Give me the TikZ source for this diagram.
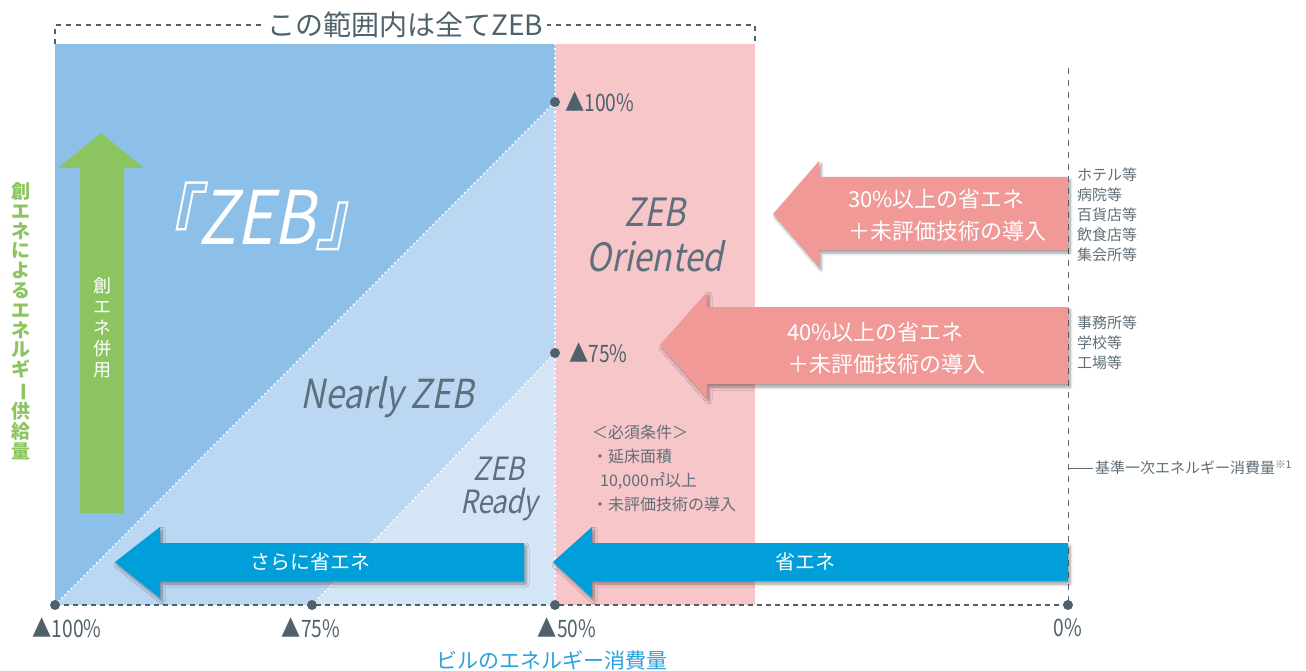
\documentclass[tikz,border=0pt]{standalone}
\usepackage{fontspec}
\setmainfont{Noto Sans CJK JP}
\newfontfamily\zebfont[FakeSlant=0.2,FakeStretch=0.85]{Noto Sans CJK JP}
\newfontfamily\numfont[FakeStretch=0.8]{Noto Sans CJK JP}
\usetikzlibrary{shadows.blur}

\definecolor{zebblue}{HTML}{8DC0E9}
\definecolor{nearlyblue}{HTML}{BCD7F1}
\definecolor{readyblue}{HTML}{D4E5F6}
\definecolor{orientpink}{HTML}{F7C6C9}
\definecolor{arrowpink}{HTML}{F09996}
\definecolor{arrowblue}{HTML}{009FDA}
\definecolor{arrowgreen}{HTML}{8CC560}
\definecolor{slate}{HTML}{4F626C}
\definecolor{listgray}{HTML}{5F6E76}
\definecolor{axisblue}{HTML}{2CA0DB}
\definecolor{zebgray}{HTML}{5D6F7D}

\tikzset{
  dot/.style={circle,fill=slate,inner sep=0pt,minimum size=10pt},
  pct/.style={text=slate,font=\numfont\fontsize{24}{24}\selectfont,inner sep=0pt},
  zeblabel/.style={text=zebgray,align=center,inner sep=0pt},
  arrowtext/.style={text=white,align=left,anchor=west,inner sep=0pt,
    font=\fontsize{22}{32}\selectfont},
  bartext/.style={text=white,inner sep=0pt,font=\fontsize{20}{20}\selectfont},
  listtext/.style={text=listgray,align=left,anchor=north west,inner sep=0pt,
    font=\fontsize{15}{20}\selectfont},
  arrowshadow/.style={blur shadow={shadow xshift=2pt,shadow yshift=-3pt,
    shadow blur steps=6,shadow blur radius=3pt,shadow opacity=40}},
  whitedots/.style={white,line width=1.5pt,dash pattern=on 1.5pt off 3pt}
}

\begin{document}
\begin{tikzpicture}[x=1pt,y=-1pt]
  \useasboundingbox (0,0) rectangle (1306,671);

  \coordinate (tl) at (55,44);
  \coordinate (tm) at (555,44);
  \coordinate (tr) at (755,44);
  \coordinate (b100) at (55,605);
  \coordinate (b75) at (312,605);
  \coordinate (b50) at (555,605);
  \coordinate (bpink) at (755,605);
  \coordinate (b0) at (1068,605);
  \coordinate (p100) at (555,102);
  \coordinate (p75) at (555,353);

  % areas
  \fill [zebblue] (tl) rectangle (b50);
  \fill [orientpink] (tm) rectangle (bpink);
  \fill [nearlyblue] (b100) -- (p100) -- (b50) -- cycle;
  \fill [readyblue] (b75) -- (p75) -- (b50) -- cycle;

  \draw [whitedots] (b100) -- (p100);
  \draw [whitedots] (b75) -- (p75);
  \draw [whitedots] (tm) -- (b50);

  % top bracket
  \draw [slate,line width=1.6pt,dash pattern=on 5pt off 5pt]
    (tl) -- (55,25) -- (755,25) -- (tr);
  \node (scope) [fill=white,text=slate,inner sep=4pt,
    font=\fontsize{28}{28}\selectfont] at (405,25) {この範囲内は全てZEB};

  % axes
  \draw [slate,line width=1.8pt,dash pattern=on 5pt off 4pt] (b100) -- (b0);
  \draw [listgray,line width=0.8pt,dash pattern=on 6pt off 6pt] (1068,68) -- (b0);

  % green arrow
  \fill [arrowgreen] (80,513) -- (80,168) -- (58,168) -- (101,133)
    -- (144,168) -- (124,168) -- (124,513) -- cycle;
  \node (sogen) [text=white,align=center,inner sep=0pt,
    font=\fontsize{18}{21}\selectfont] at (102,328)
    {創\\エ\\ネ\\併\\用};

  \node (supply) [text=arrowgreen,align=center,inner sep=0pt,
    font=\bfseries\fontsize{19}{19.8}\selectfont] at (21,321)
    {創\\エ\\ネ\\に\\よ\\る\\エ\\ネ\\ル\\ギ\\\rotatebox[origin=c]{-90}{ー}\\供\\給\\量};

  % zone names
  \node (zeb) [text=white,inner sep=0pt,font=\zebfont\fontsize{74}{74}\selectfont]
    at (257,216) {『ZEB』};
  \node (nearly) [zeblabel,font=\zebfont\fontsize{40}{40}\selectfont]
    at (387,397) {Nearly ZEB};
  \node (ready) [zeblabel,font=\zebfont\fontsize{32}{33}\selectfont]
    at (499,489) {ZEB\\Ready};
  \node (oriented) [zeblabel,font=\zebfont\fontsize{39}{45}\selectfont]
    at (655,235) {ZEB\\Oriented};

  % points
  \node [dot] at (p100) {};
  \node [dot] at (p75) {};
  \node [dot] at (b100) {};
  \node [dot] at (b75) {};
  \node [dot] at (b50) {};
  \node [dot] at (b0) {};

  \node (l100) [pct,anchor=west] at (565,102) {▲100\%};
  \node (l75) [pct,anchor=west] at (569,353) {▲75\%};
  \node (x100) [pct] at (67,628) {▲100\%};
  \node (x75) [pct] at (311,628) {▲75\%};
  \node (x50) [pct] at (567,628) {▲50\%};
  \node (x0) [pct] at (1068,628) {0\%};
  \node (xaxis) [text=axisblue,inner sep=0pt,font=\fontsize{21}{21}\selectfont]
    at (552,660) {ビルのエネルギー消費量};

  % pink arrows
  \fill [arrowpink,arrowshadow] (1068,177) -- (819,177) -- (819,161) -- (773,214)
    -- (819,267) -- (819,250) -- (1068,250) -- cycle;
  \node (save30) [arrowtext] at (848,215) {30\%以上の省エネ\\＋未評価技術の導入};

  \fill [arrowpink,arrowshadow] (1068,307) -- (707,307) -- (707,292) -- (660,345)
    -- (707,398) -- (707,384) -- (1068,384) -- cycle;
  \node (save40) [arrowtext] at (787,348) {40\%以上の省エネ\\＋未評価技術の導入};

  % blue arrows
  \fill [arrowblue,arrowshadow] (524,543) -- (160,543) -- (160,527) -- (115,562)
    -- (160,598) -- (160,581) -- (524,581) -- cycle;
  \node (more) [bartext] at (310,562) {さらに省エネ};

  \fill [arrowblue,arrowshadow] (1068,543) -- (592,543) -- (592,527) -- (553,562)
    -- (592,598) -- (592,581) -- (1068,581) -- cycle;
  \node (save) [bartext] at (805,562) {省エネ};

  % requirements
  \node (req) [text=listgray,align=left,anchor=north west,inner sep=0pt,
    font=\fontsize{16}{24}\selectfont] at (592,425)
    {＜必須条件＞\\・延床面積\\\hspace*{8pt}10,000㎡以上\\・未評価技術の導入};

  % building types
  \node (hotel) [listtext] at (1077,168)
    {ホテル等\\病院等\\百貨店等\\飲食店等\\集会所等};
  \node (office) [listtext] at (1077,316) {事務所等\\学校等\\工場等};

  \coordinate (base) at (1068,468);
  \draw [listgray,line width=0.8pt] (base) -- (1093,468);
  \node (standard) [text=listgray,anchor=west,inner sep=0pt,
    font=\fontsize{15}{15}\selectfont] at (1095,468)
    {基準一次エネルギー消費量\textsuperscript{※1}};
\end{tikzpicture}
\end{document}
